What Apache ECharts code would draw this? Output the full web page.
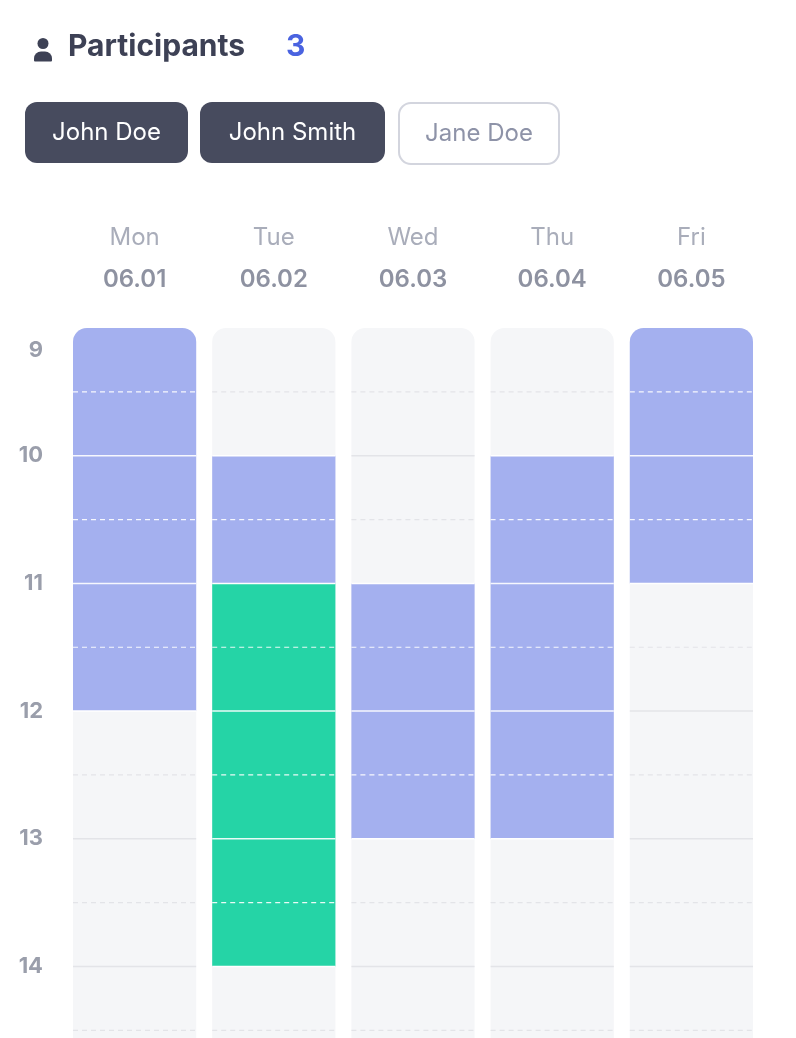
<!DOCTYPE html><html><head><meta charset="utf-8">
<script src="https://cdn.jsdelivr.net/npm/echarts@6/dist/echarts.min.js"></script>
<style>html,body{margin:0;background:#fff}#c{width:796px;height:1038px}</style></head><body><div id="c"></div><script>
const days=['Mon','Tue','Wed','Thu','Fri'];
const dates=['06.01','06.02','06.03','06.04','06.05'];
const hours=[9,10,11,12,13,14];
const blueBlocks=[[0,9,12],[1,10,11],[2,11,13],[3,10,13],[4,9,11]];
const greenBlocks=[[1,11,14]];
const participants=['John Doe','John Smith','Jane Doe'];
const selected=[true,true,false];
const YMIN=9,YMAX=14.56;
const chart=echarts.init(document.getElementById('c'));
const F='Inter, "Noto Sans", sans-serif';
function renderItem(params,api){
  const d=api.value(0);
  const x=api.coord([d,YMIN])[0];
  const w=api.size([1,0])[0]-16;
  const x0=x-w/2;
  const yTop=api.coord([d,YMIN])[1], yBot=api.coord([d,YMAX])[1];
  const ch=[{type:'rect',shape:{x:x0,y:yTop,width:w,height:yBot-yTop+20,r:[14,14,0,0]},style:{fill:'#f5f6f8'}}];
  const colored=[];
  const add=(arr,col)=>arr.filter(b=>b[0]===d).forEach(b=>{
    const y1=api.coord([d,b[1]])[1],y2=api.coord([d,b[2]])[1];
    colored.push([b[1],b[2]]);
    ch.push({type:'rect',shape:{x:x0,y:y1,width:w,height:y2-y1,r:b[1]===YMIN?[14,14,0,0]:0},style:{fill:col}});
  });
  add(blueBlocks,'#a4b0ef');add(greenBlocks,'#25d4a6');
  for(let h=9.5;h<YMAX;h+=0.5){
    const inC=colored.some(c=>h>c[0]&&h<c[1]);
    const onEdge=colored.some(c=>h===c[0]||h===c[1]);
    const y=api.coord([d,h])[1];
    const isHalf=h%1!==0;
    ch.push({type:'line',shape:{x1:x0,y1:y,x2:x0+w,y2:y},style:{stroke:inC?'#ffffff':(onEdge?'#ffffff':'#e3e4e8'),lineWidth:isHalf?1.2:1.5,lineDash:isHalf?[5,4]:null,opacity:inC?0.9:1}});
  }
  return {type:'group',children:ch};
}
chart.setOption({
  animation:false,
  grid:{left:65,right:35,top:328,height:710},
  xAxis:{type:'category',data:days,position:'top',axisLine:{show:false},axisTick:{show:false},
    axisLabel:{margin:28,formatter:(v,i)=>'{a|'+v+'}\n{b|'+dates[i]+'}',
      rich:{a:{fontFamily:F,fontSize:24,color:'#a9adba',lineHeight:44},b:{fontFamily:F,fontSize:24,fontWeight:600,color:'#8e92a1',lineHeight:40}}}},
  yAxis:{type:'value',inverse:true,min:YMIN,max:YMAX,interval:1,splitLine:{show:false},axisLine:{show:false},axisTick:{show:false},
    axisLabel:{margin:22,showMaxLabel:false,formatter:v=>v===9?'{t|9}':'{n|'+v+'}',
      rich:{n:{fontFamily:F,fontSize:22,fontWeight:700,color:'#9a9eab'},t:{fontFamily:F,fontSize:22,fontWeight:700,color:'#9a9eab',padding:[44,0,0,0]}}}},
  series:[{type:'custom',clip:true,renderItem,data:days.map((_,i)=>[i])}],
  graphic:[
    {type:'group',left:34,top:38,children:[
      {type:'circle',shape:{cx:10,cy:6,r:5.5},style:{fill:'#3d4155'}},
      {type:'rect',shape:{x:1,y:14,width:18,height:10,r:[7,7,1,1]},style:{fill:'#3d4155'}}]},
    {type:'text',left:68,top:32,style:{text:'Participants',font:'bold 30px '+F,fill:'#3d4155'}},
    {type:'text',left:286,top:32,style:{text:'3',font:'bold 30px '+F,fill:'#4a63e0'}},
    ...participants.map((p,i)=>{
      const xs=[25,200,398],ws=[163,185,160];
      return {type:'group',left:xs[i],top:102,children:[
        {type:'rect',shape:{x:0,y:0,width:ws[i],height:61,r:12},style:selected[i]?{fill:'#474b5e'}:{fill:'#fff',stroke:'#d3d5de',lineWidth:2}},
        {type:'text',style:{text:p,x:ws[i]/2,y:31,align:'center',verticalAlign:'middle',font:'24px '+F,fill:selected[i]?'#fff':'#8e93a8'}}]};
    })
  ]
});
</script></body></html>
